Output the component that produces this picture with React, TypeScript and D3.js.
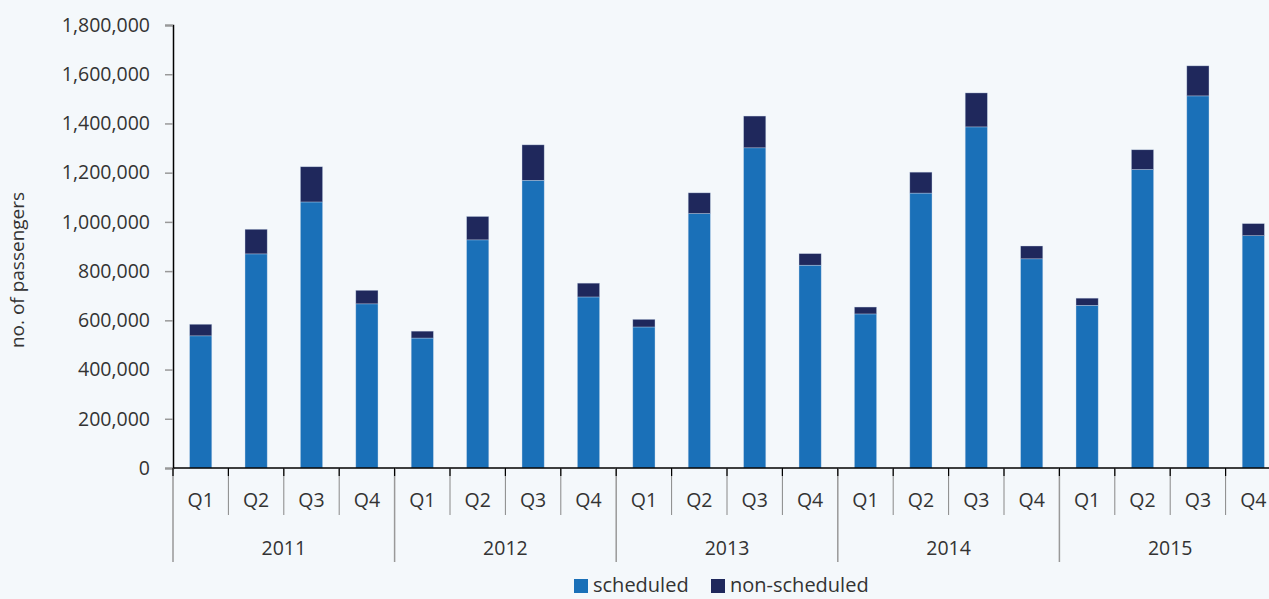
import React, { useEffect, useRef } from 'react';
import * as d3 from 'd3';

const years = ['2011', '2012', '2013', '2014', '2015'];
const quarters = ['Q1', 'Q2', 'Q3', 'Q4'];

// scheduled passengers per quarter, 2011 Q1 .. 2015 Q4
const scheduled = [
  537000, 870000, 1081000, 667000,
  528000, 927000, 1169000, 695000,
  573000, 1034000, 1301000, 824000,
  626000, 1117000, 1386000, 850000,
  661000, 1213000, 1512000, 944000,
];
// non-scheduled passengers per quarter
const nonScheduled = [
  47000, 100000, 143000, 55000,
  28000, 95000, 144000, 56000,
  31000, 84000, 129000, 47000,
  28000, 85000, 138000, 52000,
  29000, 80000, 122000, 49000,
];
const yTicks = [0, 200000, 400000, 600000, 800000, 1000000, 1200000, 1400000, 1600000, 1800000];

const seriesNames = ['scheduled', 'non-scheduled'];
const colors = ['#1a70b8', '#1f285c'];

const App = () => {
  const svgRef = useRef<SVGSVGElement>(null);

  useEffect(() => {
    const svg = d3.select(svgRef.current);
    svg.selectAll('*').remove();

    const width = 1269;
    const height = 599;
    const left = 173;
    const step = 55.4;
    const top = 25;
    const bottom = 468;
    const font = '"Open Sans", "Noto Sans", sans-serif';

    svg.attr('width', width).attr('height', height);
    svg.append('rect').attr('width', width).attr('height', height).attr('fill', '#f4f8fb');

    const keys = years.flatMap(y => quarters.map(q => `${y}-${q}`));
    const rows = keys.map((k, i) => ({ key: k, scheduled: scheduled[i], nonScheduled: nonScheduled[i] }));

    const x = d3.scaleBand().domain(keys).range([left, left + step * keys.length]).padding(0);
    const xYear = d3.scaleBand().domain(years).range([left, left + step * keys.length]).padding(0);
    const y = d3.scaleLinear().domain([0, 1800000]).range([bottom, top]);

    const stack = d3.stack<any>().keys(['scheduled', 'nonScheduled']);
    const layers = stack(rows);

    const barW = x.bandwidth() * 0.4;

    layers.forEach((layer, li) => {
      svg.append('g')
        .selectAll('rect')
        .data(layer)
        .enter()
        .append('rect')
        .attr('x', (d: any) => x(d.data.key)! + (x.bandwidth() - barW) / 2)
        .attr('y', d => y(d[1]))
        .attr('width', barW)
        .attr('height', d => y(d[0]) - y(d[1]))
        .attr('fill', colors[li])
        .attr('stroke', 'rgba(200,215,235,0.6)')
        .attr('stroke-width', 0.6);
    });

    // y axis
    const yAxis = svg.append('g')
      .attr('transform', `translate(${left},0)`)
      .call(d3.axisLeft(y).tickValues(yTicks).tickFormat(d3.format(',')).tickSize(8).tickPadding(15));
    yAxis.select('.domain').attr('stroke', '#000').attr('stroke-width', 1.5);
    yAxis.selectAll('.tick line').attr('stroke', '#999').attr('stroke-width', 1.5);
    yAxis.selectAll('.tick text')
      .attr('fill', '#333')
      .style('font-family', font)
      .style('font-size', '19.5px');

    svg.append('text')
      .attr('transform', `translate(24,270) rotate(-90)`)
      .attr('text-anchor', 'middle')
      .style('font-family', font)
      .style('font-size', '19px')
      .attr('fill', '#333')
      .text('no. of passengers');

    // x axis baseline
    svg.append('line')
      .attr('x1', left).attr('x2', width)
      .attr('y1', bottom).attr('y2', bottom)
      .attr('stroke', '#000').attr('stroke-width', 1.5);

    // quarter ticks and labels
    const qg = svg.append('g');
    keys.forEach((k, i) => {
      const x0 = x(k)!;
      if (i % 4 !== 0) {
        qg.append('line').attr('x1', x0).attr('x2', x0).attr('y1', bottom).attr('y2', 515)
          .attr('stroke', '#888').attr('stroke-width', 1);
        qg.append('line').attr('x1', x0).attr('x2', x0).attr('y1', bottom).attr('y2', 476)
          .attr('stroke', '#000').attr('stroke-width', 1.2);
      }
      qg.append('text')
        .attr('x', x0 + x.bandwidth() / 2)
        .attr('y', 507)
        .attr('text-anchor', 'middle')
        .style('font-family', font)
        .style('font-size', '19.5px')
        .attr('fill', '#333')
        .text(quarters[i % 4]);
    });

    // year separators and labels
    years.forEach(yr => {
      const x0 = xYear(yr)!;
      svg.append('line').attr('x1', x0).attr('x2', x0).attr('y1', bottom).attr('y2', 562)
        .attr('stroke', '#999').attr('stroke-width', 1.5);
      svg.append('line').attr('x1', x0).attr('x2', x0).attr('y1', bottom).attr('y2', 476)
        .attr('stroke', '#000').attr('stroke-width', 1.2);
      svg.append('text')
        .attr('x', x0 + xYear.bandwidth() / 2)
        .attr('y', 555)
        .attr('text-anchor', 'middle')
        .style('font-family', font)
        .style('font-size', '19.5px')
        .attr('fill', '#333')
        .text(yr);
    });

    // legend
    const legendX = [574, 711];
    seriesNames.forEach((name, i) => {
      svg.append('rect')
        .attr('x', legendX[i]).attr('y', 579)
        .attr('width', 14).attr('height', 14)
        .attr('fill', colors[i]);
      svg.append('text')
        .attr('x', legendX[i] + 19)
        .attr('y', 592)
        .style('font-family', font)
        .style('font-size', '20px')
        .attr('fill', '#333')
        .text(name);
    });
  }, []);

  return <svg ref={svgRef} style={{ position: 'absolute', left: 0, top: 0, display: 'block' }}></svg>;
};

export default App;
